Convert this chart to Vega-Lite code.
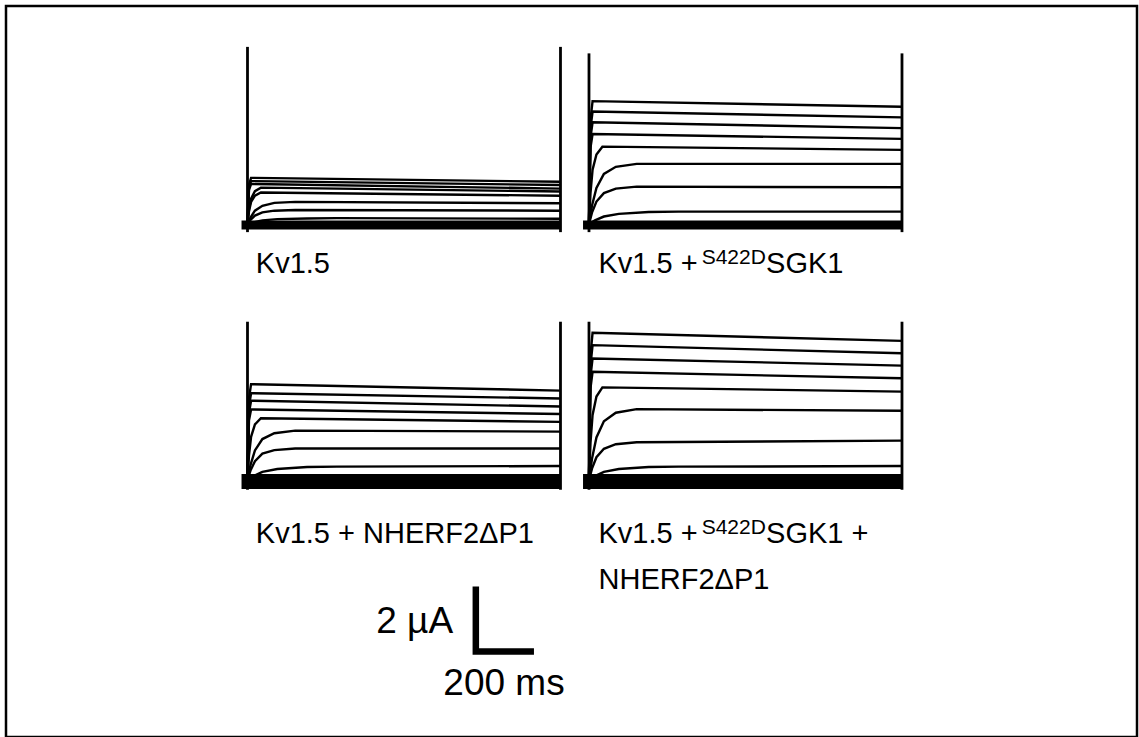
{
 "$schema": "https://vega.github.io/schema/vega-lite/v6.json",
 "width": 1131,
 "height": 731,
 "autosize": "none",
 "padding": {"left": 6, "top": 6, "right": 2, "bottom": 0},
 "background": "white",
 "config": {"view": {"stroke": "black", "strokeWidth": 2.5}},
 "datasets": {
  "traces": [
   {"row":"top","col":"left","sweep":0,"t":-20,"I":-0.03},{"row":"top","col":"left","sweep":0,"t":1050,"I":-0.03},
   {"row":"top","col":"left","sweep":1,"t":0,"I":0},{"row":"top","col":"left","sweep":1,"t":5,"I":1.21},{"row":"top","col":"left","sweep":1,"t":12,"I":1.42},{"row":"top","col":"left","sweep":1,"t":1050,"I":1.30},
   {"row":"top","col":"left","sweep":2,"t":0,"I":0},{"row":"top","col":"left","sweep":2,"t":5,"I":1.12},{"row":"top","col":"left","sweep":2,"t":12,"I":1.32},{"row":"top","col":"left","sweep":2,"t":1050,"I":1.20},
   {"row":"top","col":"left","sweep":3,"t":0,"I":0},{"row":"top","col":"left","sweep":3,"t":5,"I":1.05},{"row":"top","col":"left","sweep":3,"t":12,"I":1.23},{"row":"top","col":"left","sweep":3,"t":1050,"I":1.09},
   {"row":"top","col":"left","sweep":4,"t":0,"I":0},{"row":"top","col":"left","sweep":4,"t":5,"I":0.45},{"row":"top","col":"left","sweep":4,"t":12,"I":0.78},{"row":"top","col":"left","sweep":4,"t":25,"I":1.01},{"row":"top","col":"left","sweep":4,"t":45,"I":1.12},{"row":"top","col":"left","sweep":4,"t":1050,"I":1.00},
   {"row":"top","col":"left","sweep":5,"t":0,"I":0},{"row":"top","col":"left","sweep":5,"t":5,"I":0.39},{"row":"top","col":"left","sweep":5,"t":12,"I":0.68},{"row":"top","col":"left","sweep":5,"t":25,"I":0.87},{"row":"top","col":"left","sweep":5,"t":45,"I":0.97},{"row":"top","col":"left","sweep":5,"t":1050,"I":0.87},
   {"row":"top","col":"left","sweep":6,"t":0,"I":0},{"row":"top","col":"left","sweep":6,"t":10,"I":0.20},{"row":"top","col":"left","sweep":6,"t":25,"I":0.41},{"row":"top","col":"left","sweep":6,"t":50,"I":0.56},{"row":"top","col":"left","sweep":6,"t":90,"I":0.65},{"row":"top","col":"left","sweep":6,"t":160,"I":0.68},{"row":"top","col":"left","sweep":6,"t":1050,"I":0.64},
   {"row":"top","col":"left","sweep":7,"t":0,"I":0},{"row":"top","col":"left","sweep":7,"t":10,"I":0.13},{"row":"top","col":"left","sweep":7,"t":25,"I":0.26},{"row":"top","col":"left","sweep":7,"t":50,"I":0.36},{"row":"top","col":"left","sweep":7,"t":90,"I":0.41},{"row":"top","col":"left","sweep":7,"t":160,"I":0.43},{"row":"top","col":"left","sweep":7,"t":1050,"I":0.41},
   {"row":"top","col":"left","sweep":8,"t":0,"I":0},{"row":"top","col":"left","sweep":8,"t":20,"I":0.05},{"row":"top","col":"left","sweep":8,"t":50,"I":0.11},{"row":"top","col":"left","sweep":8,"t":100,"I":0.15},{"row":"top","col":"left","sweep":8,"t":200,"I":0.17},{"row":"top","col":"left","sweep":8,"t":300,"I":0.18},{"row":"top","col":"left","sweep":8,"t":1050,"I":0.16},

   {"row":"top","col":"right","sweep":0,"t":-20,"I":-0.03},{"row":"top","col":"right","sweep":0,"t":1050,"I":-0.03},
   {"row":"top","col":"right","sweep":1,"t":0,"I":0},{"row":"top","col":"right","sweep":1,"t":5,"I":3.21},{"row":"top","col":"right","sweep":1,"t":12,"I":3.78},{"row":"top","col":"right","sweep":1,"t":1050,"I":3.61},
   {"row":"top","col":"right","sweep":2,"t":0,"I":0},{"row":"top","col":"right","sweep":2,"t":5,"I":2.94},{"row":"top","col":"right","sweep":2,"t":12,"I":3.46},{"row":"top","col":"right","sweep":2,"t":1050,"I":3.28},
   {"row":"top","col":"right","sweep":3,"t":0,"I":0},{"row":"top","col":"right","sweep":3,"t":5,"I":2.66},{"row":"top","col":"right","sweep":3,"t":12,"I":3.13},{"row":"top","col":"right","sweep":3,"t":1050,"I":2.95},
   {"row":"top","col":"right","sweep":4,"t":0,"I":0},{"row":"top","col":"right","sweep":4,"t":5,"I":2.35},{"row":"top","col":"right","sweep":4,"t":12,"I":2.77},{"row":"top","col":"right","sweep":4,"t":1050,"I":2.62},
   {"row":"top","col":"right","sweep":5,"t":0,"I":0},{"row":"top","col":"right","sweep":5,"t":5,"I":0.95},{"row":"top","col":"right","sweep":5,"t":12,"I":1.67},{"row":"top","col":"right","sweep":5,"t":25,"I":2.14},{"row":"top","col":"right","sweep":5,"t":45,"I":2.38},{"row":"top","col":"right","sweep":5,"t":1050,"I":2.28},
   {"row":"top","col":"right","sweep":6,"t":0,"I":0},{"row":"top","col":"right","sweep":6,"t":10,"I":0.56},{"row":"top","col":"right","sweep":6,"t":25,"I":1.11},{"row":"top","col":"right","sweep":6,"t":50,"I":1.54},{"row":"top","col":"right","sweep":6,"t":90,"I":1.76},{"row":"top","col":"right","sweep":6,"t":160,"I":1.85},{"row":"top","col":"right","sweep":6,"t":1050,"I":1.85},
   {"row":"top","col":"right","sweep":7,"t":0,"I":0},{"row":"top","col":"right","sweep":7,"t":10,"I":0.35},{"row":"top","col":"right","sweep":7,"t":25,"I":0.69},{"row":"top","col":"right","sweep":7,"t":50,"I":0.95},{"row":"top","col":"right","sweep":7,"t":90,"I":1.09},{"row":"top","col":"right","sweep":7,"t":160,"I":1.15},{"row":"top","col":"right","sweep":7,"t":1050,"I":1.13},
   {"row":"top","col":"right","sweep":8,"t":0,"I":0},{"row":"top","col":"right","sweep":8,"t":20,"I":0.11},{"row":"top","col":"right","sweep":8,"t":50,"I":0.23},{"row":"top","col":"right","sweep":8,"t":100,"I":0.31},{"row":"top","col":"right","sweep":8,"t":200,"I":0.37},{"row":"top","col":"right","sweep":8,"t":300,"I":0.38},{"row":"top","col":"right","sweep":8,"t":1050,"I":0.38},

   {"row":"bottom","col":"left","sweep":0,"t":-20,"I":-0.05},{"row":"bottom","col":"left","sweep":0,"t":1050,"I":-0.05},
   {"row":"bottom","col":"left","sweep":1,"t":0,"I":0},{"row":"bottom","col":"left","sweep":1,"t":5,"I":2.51},{"row":"bottom","col":"left","sweep":1,"t":12,"I":2.95},{"row":"bottom","col":"left","sweep":1,"t":1050,"I":2.75},
   {"row":"bottom","col":"left","sweep":2,"t":0,"I":0},{"row":"bottom","col":"left","sweep":2,"t":5,"I":2.27},{"row":"bottom","col":"left","sweep":2,"t":12,"I":2.67},{"row":"bottom","col":"left","sweep":2,"t":1050,"I":2.51},
   {"row":"bottom","col":"left","sweep":3,"t":0,"I":0},{"row":"bottom","col":"left","sweep":3,"t":5,"I":2.07},{"row":"bottom","col":"left","sweep":3,"t":12,"I":2.44},{"row":"bottom","col":"left","sweep":3,"t":1050,"I":2.26},
   {"row":"bottom","col":"left","sweep":4,"t":0,"I":0},{"row":"bottom","col":"left","sweep":4,"t":5,"I":1.84},{"row":"bottom","col":"left","sweep":4,"t":12,"I":2.17},{"row":"bottom","col":"left","sweep":4,"t":1050,"I":2.03},
   {"row":"bottom","col":"left","sweep":5,"t":0,"I":0},{"row":"bottom","col":"left","sweep":5,"t":5,"I":0.76},{"row":"bottom","col":"left","sweep":5,"t":12,"I":1.33},{"row":"bottom","col":"left","sweep":5,"t":25,"I":1.71},{"row":"bottom","col":"left","sweep":5,"t":45,"I":1.90},{"row":"bottom","col":"left","sweep":5,"t":1050,"I":1.79},
   {"row":"bottom","col":"left","sweep":6,"t":0,"I":0},{"row":"bottom","col":"left","sweep":6,"t":10,"I":0.46},{"row":"bottom","col":"left","sweep":6,"t":25,"I":0.91},{"row":"bottom","col":"left","sweep":6,"t":50,"I":1.26},{"row":"bottom","col":"left","sweep":6,"t":90,"I":1.44},{"row":"bottom","col":"left","sweep":6,"t":160,"I":1.52},{"row":"bottom","col":"left","sweep":6,"t":1050,"I":1.49},
   {"row":"bottom","col":"left","sweep":7,"t":0,"I":0},{"row":"bottom","col":"left","sweep":7,"t":10,"I":0.29},{"row":"bottom","col":"left","sweep":7,"t":25,"I":0.58},{"row":"bottom","col":"left","sweep":7,"t":50,"I":0.81},{"row":"bottom","col":"left","sweep":7,"t":90,"I":0.92},{"row":"bottom","col":"left","sweep":7,"t":160,"I":0.97},{"row":"bottom","col":"left","sweep":7,"t":1050,"I":0.97},
   {"row":"bottom","col":"left","sweep":8,"t":0,"I":0},{"row":"bottom","col":"left","sweep":8,"t":20,"I":0.12},{"row":"bottom","col":"left","sweep":8,"t":50,"I":0.25},{"row":"bottom","col":"left","sweep":8,"t":100,"I":0.34},{"row":"bottom","col":"left","sweep":8,"t":200,"I":0.40},{"row":"bottom","col":"left","sweep":8,"t":300,"I":0.41},{"row":"bottom","col":"left","sweep":8,"t":1050,"I":0.43},

   {"row":"bottom","col":"right","sweep":0,"t":-20,"I":-0.05},{"row":"bottom","col":"right","sweep":0,"t":1050,"I":-0.05},
   {"row":"bottom","col":"right","sweep":1,"t":0,"I":0},{"row":"bottom","col":"right","sweep":1,"t":5,"I":3.85},{"row":"bottom","col":"right","sweep":1,"t":12,"I":4.53},{"row":"bottom","col":"right","sweep":1,"t":1050,"I":4.28},
   {"row":"bottom","col":"right","sweep":2,"t":0,"I":0},{"row":"bottom","col":"right","sweep":2,"t":5,"I":3.53},{"row":"bottom","col":"right","sweep":2,"t":12,"I":4.15},{"row":"bottom","col":"right","sweep":2,"t":1050,"I":3.90},
   {"row":"bottom","col":"right","sweep":3,"t":0,"I":0},{"row":"bottom","col":"right","sweep":3,"t":5,"I":3.18},{"row":"bottom","col":"right","sweep":3,"t":12,"I":3.74},{"row":"bottom","col":"right","sweep":3,"t":1050,"I":3.52},
   {"row":"bottom","col":"right","sweep":4,"t":0,"I":0},{"row":"bottom","col":"right","sweep":4,"t":5,"I":2.83},{"row":"bottom","col":"right","sweep":4,"t":12,"I":3.33},{"row":"bottom","col":"right","sweep":4,"t":1050,"I":3.13},
   {"row":"bottom","col":"right","sweep":5,"t":0,"I":0},{"row":"bottom","col":"right","sweep":5,"t":5,"I":1.14},{"row":"bottom","col":"right","sweep":5,"t":12,"I":2.00},{"row":"bottom","col":"right","sweep":5,"t":25,"I":2.57},{"row":"bottom","col":"right","sweep":5,"t":45,"I":2.85},{"row":"bottom","col":"right","sweep":5,"t":1050,"I":2.72},
   {"row":"bottom","col":"right","sweep":6,"t":0,"I":0},{"row":"bottom","col":"right","sweep":6,"t":10,"I":0.65},{"row":"bottom","col":"right","sweep":6,"t":25,"I":1.31},{"row":"bottom","col":"right","sweep":6,"t":50,"I":1.81},{"row":"bottom","col":"right","sweep":6,"t":90,"I":2.07},{"row":"bottom","col":"right","sweep":6,"t":160,"I":2.18},{"row":"bottom","col":"right","sweep":6,"t":1050,"I":2.13},
   {"row":"bottom","col":"right","sweep":7,"t":0,"I":0},{"row":"bottom","col":"right","sweep":7,"t":10,"I":0.35},{"row":"bottom","col":"right","sweep":7,"t":25,"I":0.70},{"row":"bottom","col":"right","sweep":7,"t":50,"I":0.96},{"row":"bottom","col":"right","sweep":7,"t":90,"I":1.10},{"row":"bottom","col":"right","sweep":7,"t":160,"I":1.16},{"row":"bottom","col":"right","sweep":7,"t":1050,"I":1.21},
   {"row":"bottom","col":"right","sweep":8,"t":0,"I":0},{"row":"bottom","col":"right","sweep":8,"t":20,"I":0.12},{"row":"bottom","col":"right","sweep":8,"t":50,"I":0.25},{"row":"bottom","col":"right","sweep":8,"t":100,"I":0.34},{"row":"bottom","col":"right","sweep":8,"t":200,"I":0.40},{"row":"bottom","col":"right","sweep":8,"t":300,"I":0.41},{"row":"bottom","col":"right","sweep":8,"t":1050,"I":0.43}
  ],
  "spikes": [
   {"row":"top","col":"left","edge":"on","t":0,"I":-0.25},{"row":"top","col":"left","edge":"on","t":0,"I":5.45},
   {"row":"top","col":"left","edge":"off","t":1050,"I":-0.25},{"row":"top","col":"left","edge":"off","t":1050,"I":5.45},
   {"row":"top","col":"right","edge":"on","t":0,"I":-0.25},{"row":"top","col":"right","edge":"on","t":0,"I":5.25},
   {"row":"top","col":"right","edge":"off","t":1050,"I":-0.25},{"row":"top","col":"right","edge":"off","t":1050,"I":5.25},
   {"row":"bottom","col":"left","edge":"on","t":0,"I":-0.3},{"row":"bottom","col":"left","edge":"on","t":0,"I":4.87},
   {"row":"bottom","col":"left","edge":"off","t":1050,"I":-0.3},{"row":"bottom","col":"left","edge":"off","t":1050,"I":4.87},
   {"row":"bottom","col":"right","edge":"on","t":0,"I":-0.3},{"row":"bottom","col":"right","edge":"on","t":0,"I":4.87},
   {"row":"bottom","col":"right","edge":"off","t":1050,"I":-0.3},{"row":"bottom","col":"right","edge":"off","t":1050,"I":4.87}
  ],
  "scalebar": [
   {"row":"bottom","col":"left","t":766,"I":-3.28},
   {"row":"bottom","col":"left","t":766,"I":-5.28},
   {"row":"bottom","col":"left","t":961,"I":-5.28}
  ],
  "labels": [
   {"row":"top","col":"left","part":"main","t":28,"I":-1.52,"text":"Kv1.5"},
   {"row":"top","col":"right","part":"main","t":32,"I":-1.52,"text":"Kv1.5 +"},
   {"row":"top","col":"right","part":"sup","t":378,"I":-1.22,"text":"S422D"},
   {"row":"top","col":"right","part":"main","t":594,"I":-1.52,"text":"SGK1"},
   {"row":"bottom","col":"left","part":"main","t":28,"I":-1.95,"text":"Kv1.5 + NHERF2ΔP1"},
   {"row":"bottom","col":"right","part":"main","t":32,"I":-1.95,"text":"Kv1.5 +"},
   {"row":"bottom","col":"right","part":"sup","t":378,"I":-1.66,"text":"S422D"},
   {"row":"bottom","col":"right","part":"main","t":594,"I":-1.95,"text":"SGK1 +"},
   {"row":"bottom","col":"right","part":"main","t":32,"I":-3.35,"text":"NHERF2ΔP1"},
   {"row":"bottom","col":"left","part":"scale","t":432,"I":-4.72,"text":"2 µA"},
   {"row":"bottom","col":"left","part":"scale","t":657,"I":-6.62,"text":"200 ms"}
  ]
 },
 "encoding": {
  "x": {"field":"col","type":"nominal","axis":null,"scale":{"domain":["left","right"],"paddingInner":0.08346,"paddingOuter":0.69766,"align":0.5068}},
  "xOffset": {"field":"t","type":"quantitative","scale":{"domain":[0,1050],"nice":false,"zero":false}},
  "y": {"field":"row","type":"nominal","axis":null,"scale":{"domain":["top","bottom"],"paddingInner":0.2383,"paddingOuter":0.5469,"align":0.1402}},
  "yOffset": {"field":"I","type":"quantitative","scale":{"domain":[-0.5,5.5],"nice":false,"zero":false,"reverse":true}}
 },
 "layer": [
  {
   "data": {"name":"traces"},
   "transform": [{"filter":"datum.sweep > 0"}],
   "mark": {"type":"line","color":"black","strokeWidth":2.4},
   "encoding": {"detail":[{"field":"row","type":"nominal"},{"field":"col","type":"nominal"},{"field":"sweep","type":"nominal"}]}
  },
  {
   "data": {"name":"traces"},
   "transform": [{"filter":"datum.sweep == 0 && datum.row == 'top'"}],
   "mark": {"type":"line","color":"black","strokeWidth":9},
   "encoding": {"detail":[{"field":"col","type":"nominal"}]}
  },
  {
   "data": {"name":"traces"},
   "transform": [{"filter":"datum.sweep == 0 && datum.row == 'bottom'"}],
   "mark": {"type":"line","color":"black","strokeWidth":15},
   "encoding": {"detail":[{"field":"col","type":"nominal"}]}
  },
  {
   "data": {"name":"spikes"},
   "mark": {"type":"line","color":"black","strokeWidth":2.8},
   "encoding": {"detail":[{"field":"row","type":"nominal"},{"field":"col","type":"nominal"},{"field":"edge","type":"nominal"}]}
  },
  {
   "data": {"name":"scalebar"},
   "mark": {"type":"line","color":"black","strokeWidth":6.5,"strokeJoin":"miter","strokeCap":"butt"},
   "encoding": {}
  },
  {
   "data": {"name":"labels"},
   "transform": [{"filter":"datum.part == 'main'"}],
   "mark": {"type":"text","align":"left","baseline":"alphabetic","font":"Liberation Sans, Arial, sans-serif","fontSize":29,"color":"black"},
   "encoding": {"text":{"field":"text","type":"nominal"}}
  },
  {
   "data": {"name":"labels"},
   "transform": [{"filter":"datum.part == 'sup'"}],
   "mark": {"type":"text","align":"left","baseline":"alphabetic","font":"Liberation Sans, Arial, sans-serif","fontSize":21,"color":"black"},
   "encoding": {"text":{"field":"text","type":"nominal"}}
  },
  {
   "data": {"name":"labels"},
   "transform": [{"filter":"datum.part == 'scale'"}],
   "mark": {"type":"text","align":"left","baseline":"alphabetic","font":"Liberation Sans, Arial, sans-serif","fontSize":37,"color":"black"},
   "encoding": {"text":{"field":"text","type":"nominal"}}
  }
 ]
}
